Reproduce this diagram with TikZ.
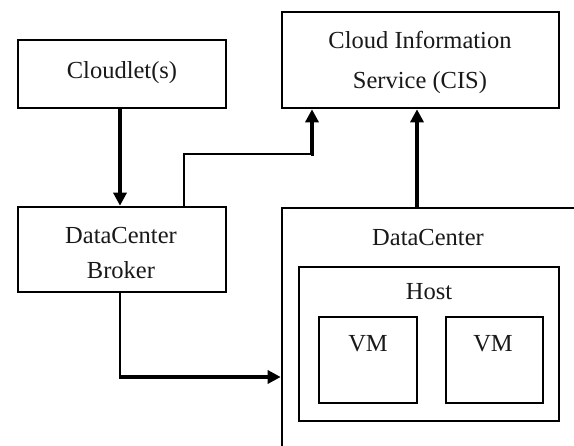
\documentclass[tikz,border=0pt]{standalone}
\usepackage{fontspec}
\setmainfont{Liberation Serif}
\usetikzlibrary{arrows.meta}
\begin{document}
\begin{tikzpicture}[x=1pt,y=-1pt,
  box/.style={draw,line width=2.6pt,inner sep=0pt,anchor=center},
  lbl/.style={inner sep=0pt,anchor=center,text=black!90,font=\fontsize{24.5}{36}\selectfont,align=center},
  thinline/.style={line width=2.4pt},
  thickarr/.style={line width=4.2pt,-{Triangle[length=13pt,width=13pt]}},
  thinarr/.style={line width=3.2pt,-{Triangle[length=13pt,width=13pt]}}]
\clip (0,0) rectangle (574,446);
\fill[white] (0,0) rectangle (574,446);
% boxes
\node[box,minimum width=208pt,minimum height=68pt] (cloudlet) at (122,74) {};
\node[box,minimum width=277pt,minimum height=96pt] (cis) at (420.5,60) {};
\node[box,minimum width=208pt,minimum height=85pt] (broker) at (122,249.5) {};
\node[box,minimum width=318pt,minimum height=262pt] (dc) at (441,339) {};
\node[box,minimum width=260pt,minimum height=154pt] (host) at (429,344) {};
\node[box,minimum width=98pt,minimum height=86pt] (vm1) at (368,360) {};
\node[box,minimum width=97pt,minimum height=86pt] (vm2) at (494.5,360) {};
% labels
\node[lbl] (tcloudlet) at (122,73) {Cloudlet(s)};
\node[lbl,font=\fontsize{24.5}{40}\selectfont] (tcis) at (420,62) {Cloud Information\\Service (CIS)};
\node[lbl,font=\fontsize{24.5}{35}\selectfont] (tbroker) at (121,253) {DataCenter\\Broker};
\node[lbl] (tdc) at (428,238) {DataCenter};
\node[lbl] (thost) at (429,292) {Host};
\node[lbl] (tvm1) at (368,344) {VM};
\node[lbl] (tvm2) at (493,344) {VM};
% connectors
\coordinate (j1) at (312,154);
\coordinate (j2) at (120,377);
\draw[thickarr] ([xshift=-2pt]cloudlet.south) -- ([xshift=-2pt]broker.north);
\draw[thinline] ([xshift=62pt]broker.north) |- (j1);
\draw[thinarr] ([xshift=-1.2pt]j1) -| ([xshift=-108.5pt]cis.south);
\draw[thickarr] ([xshift=-24pt]dc.north) -- ([xshift=-3.5pt]cis.south);
\draw[thinline] ([xshift=-2pt]broker.south) -- (j2);
\draw[thickarr] ([xshift=-1.2pt]j2) -- (j2 -| dc.west);
\end{tikzpicture}
\end{document}
